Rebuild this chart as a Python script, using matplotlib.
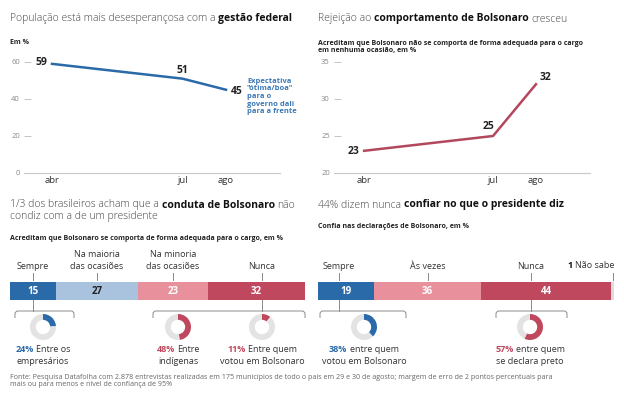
import matplotlib
matplotlib.use("Agg")
import matplotlib.pyplot as plt
from matplotlib.path import Path
from matplotlib.patches import PathPatch

W, H = 624, 399

# ---- data ----
MONTHS = ["abr", "jul", "ago"]
MONTH_NUM = [4, 7, 8]
EXPECTATIVA = [59, 51, 45]
REJEICAO = [23, 25, 32]

CONDUTA_CATS = ["Sempre", "Na maioria\ndas ocasiões", "Na minoria\ndas ocasiões", "Nunca"]
CONDUTA_VALS = [15, 27, 23, 32]
CONDUTA_DONUT_VALS = [24, 48, 11]
CONDUTA_DONUT_TXT = [("Entre os", "empresários"), ("Entre", "indígenas"),
                     ("Entre quem", "votou em Bolsonaro")]

CONFIA_CATS = ["Sempre", "Às vezes", "Nunca", "Não sabe"]
CONFIA_VALS = [19, 36, 44, 1]
CONFIA_DONUT_VALS = [38, 57]
CONFIA_DONUT_TXT = [("entre quem", "votou em Bolsonaro"), ("entre quem", "se declara preto")]

# ---- style ----
BLUE = "#2b6aa9"
LIGHT_BLUE = "#a9c3de"
PINK = "#e8909b"
RED = "#c0485e"
LINE_RED = "#b3485d"
NS_GRAY = "#dddddd"
DONUT_GRAY = "#e3e3e3"
TXT = "#333333"
TITLE_GRAY = "#444444"
TITLE = 7.5

plt.rcParams["font.family"] = ["Open Sans", "DejaVu Sans"]

fig = plt.figure(figsize=(W / 100, H / 100), dpi=100)
renderer = fig.canvas.get_renderer()


def px_axes(x0, y0, x1, y1):
    return fig.add_axes([x0 / W, 1 - y1 / H, (x1 - x0) / W, (y1 - y0) / H])


def rich(x, y, parts, size, ha="left"):
    """Text made of (string, weight, color) pieces on one line, pixel coords."""
    gap = 0.27 * size * 100 / 72
    texts = [fig.text(0, 0, s, fontsize=size, weight=w, color=c, va="center")
             for s, w, c in parts]
    widths = [t.get_window_extent(renderer).width for t in texts]
    total = sum(widths) + gap * (len(texts) - 1)
    x0 = {"left": x, "center": x - total / 2, "right": x - total}[ha]
    for t, w in zip(texts, widths):
        t.set_position((x0 / W, 1 - y / H))
        x0 += w + gap


# overlay in pixel coordinates for rules and brackets
ov = fig.add_axes([0, 0, 1, 1])
ov.set_xlim(0, W)
ov.set_ylim(H, 0)
ov.axis("off")


def bracket(x1, x2, xt, y, ytop=300):
    ov.plot([xt, xt], [ytop, y], color="#8a8a8a", lw=0.7)
    verts = [(x1, y + 7), (x1, y + 3), (x1, y), (x1 + 3, y), (x2 - 3, y),
             (x2, y), (x2, y + 3), (x2, y + 7)]
    codes = [Path.MOVETO, Path.LINETO, Path.CURVE3, Path.CURVE3, Path.LINETO,
             Path.CURVE3, Path.CURVE3, Path.LINETO]
    ov.add_patch(PathPatch(Path(verts, codes), fill=False, ec="#8a8a8a", lw=0.7))


def line_panel(rect, xlim, ylim, yticks, values, color, offsets):
    ax = px_axes(*rect)
    ax.patch.set_alpha(0)
    ax.plot(MONTH_NUM, values, color=color, lw=1.8, clip_on=False, zorder=3)
    ax.set_xlim(xlim)
    ax.set_ylim(ylim)
    for s in ax.spines.values():
        s.set_visible(False)
    ax.axhline(ylim[0], color="#c8c8c8", lw=0.8, clip_on=False)
    ax.set_yticks(yticks)
    ax.tick_params(axis="y", direction="in", length=5, width=0.6, color="#bbbbbb",
                   labelsize=5.5, labelcolor="#8a8a8a", pad=3)
    ax.set_xticks(MONTH_NUM)
    ax.set_xticklabels(MONTHS)
    ax.tick_params(axis="x", length=0, labelsize=6.8, labelcolor=TXT, pad=2)
    for x, v, (dx, dy, ha) in zip(MONTH_NUM, values, offsets):
        ax.annotate(str(v), (x, v), xytext=(dx, -dy), textcoords="offset pixels",
                    ha=ha, va="center", fontsize=7.5, weight="bold", color="#222222")
    return ax


def donut(cx, cy, v, color):
    r = 13
    ax = px_axes(cx - r, cy - r, cx + r, cy + r)
    ax.pie([v, 100 - v], colors=[color, DONUT_GRAY], startangle=90, counterclock=False,
           wedgeprops=dict(width=0.45, edgecolor="none"))
    ax.set_xlim(-1, 1)
    ax.set_ylim(-1, 1)
    ax.set_aspect("equal")


def bar_panel(x0, x1, vals, colors, txt_colors):
    ax = px_axes(x0, 282, x1, 300)
    left = 0
    for v, c, tc in zip(vals, colors, txt_colors):
        ax.barh(0, v, left=left, height=1, color=c, edgecolor="none")
        if v >= 5:
            ax.text(left + v / 2, 0, str(v), ha="center", va="center", fontsize=7,
                    weight="bold", color=tc)
        left += v
    ax.set_xlim(0, left)
    ax.set_ylim(-0.5, 0.5)
    ax.axis("off")
    return lambda val: x0 + val * (x1 - x0) / left


def cat_labels(to_px, positions, cats):
    for pos, cat in zip(positions, cats):
        x = to_px(pos)
        ov.plot([x, x], [273, 280], color="#8a8a8a", lw=0.7)
        fig.text(x / W, 1 - 271 / H, cat, ha="center", va="bottom", fontsize=6.5,
                 color=TXT, multialignment="center", linespacing=1.4)


def donut_text(cx, pct, color, line1, line2):
    rich(cx, 349, [(f"{pct}%", "bold", color), (line1, "normal", TXT)], 6.5, ha="center")
    fig.text(cx / W, 1 - 362 / H, line2, ha="center", va="center", fontsize=6.5, color=TXT)


# ---- top left ----
rich(10, 19, [("População está mais desesperançosa com a", "light", TITLE_GRAY),
              ("gestão federal", "bold", "#111111")], TITLE)
fig.text(10 / W, 1 - 43 / H, "Em %", fontsize=5, weight="bold", color="#222222", va="center")
line_panel((24, 62, 280, 173), (3.356, 9.241), (0, 60), [0, 20, 40, 60], EXPECTATIVA, BLUE,
           [(-5, -1, "right"), (0, -8, "center"), (5, 2, "left")])
fig.text(247 / W, 1 - 78 / H, "Expectativa\n\"ótima/boa\"\npara o\ngoverno dali\npara a frente",
         fontsize=5.4, weight="bold", color="#3a78b5", va="top", linespacing=1.1)

# ---- top right ----
rich(318, 19, [("Rejeição ao", "light", TITLE_GRAY),
               ("comportamento de Bolsonaro", "bold", "#111111"),
               ("cresceu", "light", TITLE_GRAY)], TITLE)
fig.text(318 / W, 1 - 47 / H,
         "Acreditam que Bolsonaro não se comporta de forma adequada para o cargo\nem nenhuma ocasião, em %",
         fontsize=5, weight="bold", color="#222222", va="center", linespacing=1.1)
line_panel((334, 62, 590, 173), (3.30, 9.256), (20, 35), [20, 25, 30, 35], REJEICAO, LINE_RED,
           [(-5, 1, "right"), (-5, -9, "center"), (9, -7, "center")])

# ---- bottom left ----
rich(10, 205, [("1/3 dos brasileiros acham que a", "light", TITLE_GRAY),
               ("conduta de Bolsonaro", "bold", "#111111"),
               ("não", "light", TITLE_GRAY)], TITLE)
fig.text(10 / W, 1 - 216 / H, "condiz com a de um presidente", fontsize=TITLE, weight="light",
         color=TITLE_GRAY, va="center")
fig.text(10 / W, 1 - 239 / H, "Acreditam que Bolsonaro se comporta de forma adequada para o cargo, em %",
         fontsize=5, weight="bold", color="#222222", va="center")
to_px_l = bar_panel(10, 305, CONDUTA_VALS, [BLUE, LIGHT_BLUE, PINK, RED],
                    ["white", "#222222", "white", "white"])
cat_labels(to_px_l, [7.5, 28.5, 53.5, 82.9], CONDUTA_CATS)
bracket(15, 74, to_px_l(7.5), 311)
bracket(153, 305, to_px_l(82.9), 311)
for cx, v, c, (l1, l2) in zip([43, 178, 262], CONDUTA_DONUT_VALS, [BLUE, RED, RED],
                              CONDUTA_DONUT_TXT):
    donut(cx, 327, v, c)
    donut_text(cx, v, c, l1, l2)

# ---- bottom right ----
rich(318, 205, [("44% dizem nunca", "light", TITLE_GRAY),
                ("confiar no que o presidente diz", "bold", "#111111")], TITLE)
fig.text(318 / W, 1 - 226 / H, "Confia nas declarações de Bolsonaro, em %",
         fontsize=5, weight="bold", color="#222222", va="center")
to_px_r = bar_panel(318, 614, CONFIA_VALS, [BLUE, PINK, RED, NS_GRAY],
                    ["white", "white", "white", TXT])
cat_labels(to_px_r, [7, 37, 72], CONFIA_CATS[:3])
xr = to_px_r(99.5)
ov.plot([xr, xr], [273, 280], color="#8a8a8a", lw=0.7)
rich(614, 266, [(str(CONFIA_VALS[3]), "bold", "#111111"), (CONFIA_CATS[3], "normal", TXT)],
     6.5, ha="right")
bracket(320, 406, to_px_r(7), 311)
bracket(496, 567, to_px_r(72), 311)
for cx, v, c, (l1, l2) in zip([364, 530], CONFIA_DONUT_VALS, [BLUE, RED], CONFIA_DONUT_TXT):
    donut(cx, 327, v, c)
    donut_text(cx, v, c, l1, l2)

# ---- source ----
fig.text(10 / W, 1 - 381 / H,
         "Fonte: Pesquisa Datafolha com 2.878 entrevistas realizadas em 175 municípios de todo o país "
         "em 29 e 30 de agosto; margem de erro de 2 pontos percentuais para\n"
         "mais ou para menos e nível de confiança de 95%",
         fontsize=5.1, color="#666666", va="center", linespacing=1.15)

fig.savefig("out.png", dpi=100, facecolor="white")
